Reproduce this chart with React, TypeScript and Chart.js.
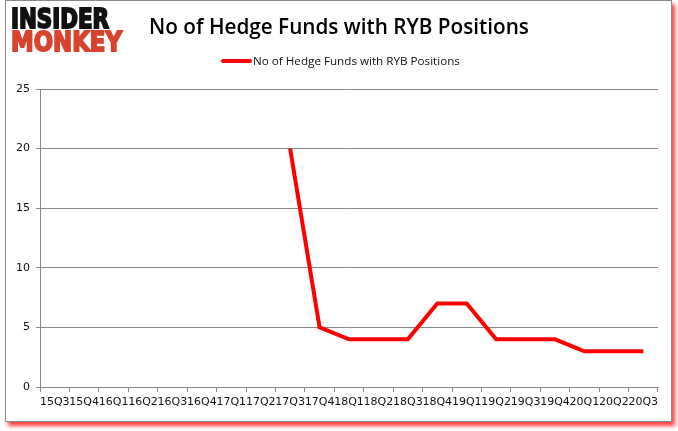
import React, { useEffect, useRef } from "react";
import { Chart, registerables } from "chart.js";

Chart.register(...registerables);

const categories = [
  "15Q3", "15Q4", "16Q1", "16Q2", "16Q3", "16Q4", "17Q1", "17Q2", "17Q3", "17Q4",
  "18Q1", "18Q2", "18Q3", "18Q4", "19Q1", "19Q2", "19Q3", "19Q4", "20Q1", "20Q2", "20Q3",
];
const hedgeFunds: (number | null)[] = [
  null, null, null, null, null, null, null, null, 20, 5,
  4, 4, 4, 7, 7, 4, 4, 4, 3, 3, 3,
];
const yTicks = [0, 5, 10, 15, 20, 25];
const seriesName = "No of Hedge Funds with RYB Positions";
const titleText = "No of Hedge Funds with RYB Positions";

function fitFont(ctx: CanvasRenderingContext2D, text: string, family: string, weight: string, base: number, target: number) {
  ctx.font = `${weight} ${base}px ${family}`;
  const w = ctx.measureText(text).width;
  return (base * target) / w;
}

function drawLogoWord(ctx: CanvasRenderingContext2D, text: string, x: number, y: number, width: number, height: number, color: string) {
  const s = fitFont(ctx, text, "'DejaVu Sans'", "bold", 20, width - 2);
  ctx.font = `bold ${s}px 'DejaVu Sans'`;
  ctx.fillStyle = color;
  ctx.strokeStyle = color;
  ctx.lineWidth = 1.6;
  ctx.lineJoin = "miter";
  ctx.save();
  ctx.translate(x + 1, y);
  ctx.scale(1, height / (s * 0.73));
  ctx.fillText(text, 0, 0);
  ctx.strokeText(text, 0, 0);
  ctx.restore();
}

const decorPlugin = {
  id: "decor",
  afterDraw(chart: any) {
    const ctx: CanvasRenderingContext2D = chart.ctx;
    ctx.save();
    ctx.textBaseline = "alphabetic";
    ctx.textAlign = "left";
    drawLogoWord(ctx, "INSIDER", 10, 28, 100, 19, "#111111");
    drawLogoWord(ctx, "MONKEY", 10, 51, 113, 19, "#d9432d");

    // Title
    const ts = fitFont(ctx, titleText, "'Open Sans'", "600", 20, 380);
    ctx.font = `600 ${ts}px 'Open Sans'`;
    ctx.fillStyle = "#000000";
    ctx.textAlign = "center";
    ctx.textBaseline = "middle";
    ctx.fillText(titleText, 339, 28);

    // Legend
    ctx.strokeStyle = "#ff0000";
    ctx.lineWidth = 4;
    ctx.lineCap = "round";
    ctx.beginPath();
    ctx.moveTo(223, 61);
    ctx.lineTo(250, 61);
    ctx.stroke();
    const ls = fitFont(ctx, seriesName, "'Open Sans'", "normal", 11, 207);
    ctx.font = `normal ${ls}px 'Open Sans'`;
    ctx.textAlign = "left";
    ctx.fillStyle = "#111111";
    ctx.fillText(seriesName, 253, 62);
    ctx.restore();
  },
};

export default function App() {
  const ref = useRef<HTMLCanvasElement | null>(null);
  useEffect(() => {
    if (!ref.current) return;
    const chart = new Chart(ref.current, {
      type: "line",
      data: {
        labels: categories,
        datasets: [
          {
            label: seriesName,
            data: hedgeFunds,
            borderColor: "#ff0000",
            backgroundColor: "#ff0000",
            borderWidth: 4,
            pointRadius: 0,
            tension: 0,
            spanGaps: false,
          },
        ],
      },
      options: {
        animation: false,
        responsive: false,
        maintainAspectRatio: false,
        layout: { padding: { left: 0, right: 20, top: 89, bottom: 0 } },
        plugins: {
          legend: { display: false },
          title: { display: false },
          tooltip: { enabled: false },
        },
        scales: {
          x: {
            type: "category",
            offset: true,
            afterFit: (scale: any) => {
              scale.height = 44;
            },
            grid: {
              offset: true,
              drawOnChartArea: false,
              drawTicks: true,
              tickLength: 5,
              color: "#888888",
            },
            border: { color: "#888888", width: 1 },
            ticks: {
              autoSkip: false,
              maxRotation: 0,
              minRotation: 0,
              padding: 4,
              color: "#111111",
              font: { family: "'DejaVu Sans'", size: 11 },
            },
          },
          y: {
            min: 0,
            max: 25,
            afterFit: (scale: any) => {
              scale.width = 40;
            },
            afterBuildTicks: (scale: any) => {
              scale.ticks = yTicks.map((v) => ({ value: v }));
            },
            grid: {
              color: "#888888",
              tickLength: 4,
              drawTicks: true,
            },
            border: { color: "#888888", width: 1 },
            ticks: {
              stepSize: 5,
              padding: 6,
              color: "#111111",
              font: { family: "'DejaVu Sans'", size: 11 },
            },
          },
        },
      },
      plugins: [decorPlugin],
    });
    return () => chart.destroy();
  }, []);

  return (
    <div style={{ position: "absolute", left: 0, top: 0, width: 678, height: 431, background: "#ffffff" }}>
      <div
        style={{
          position: "absolute",
          left: 5,
          top: 0,
          width: 665,
          height: 420,
          border: "1px solid #8a8a8a",
          background: "#ffffff",
          boxShadow: "3px 4px 4px rgba(255,0,0,0.75)",
        }}
      />
      <canvas
        ref={ref}
        width={678}
        height={431}
        style={{ position: "absolute", left: 0, top: 0, width: 678, height: 431 }}
      />
    </div>
  );
}
